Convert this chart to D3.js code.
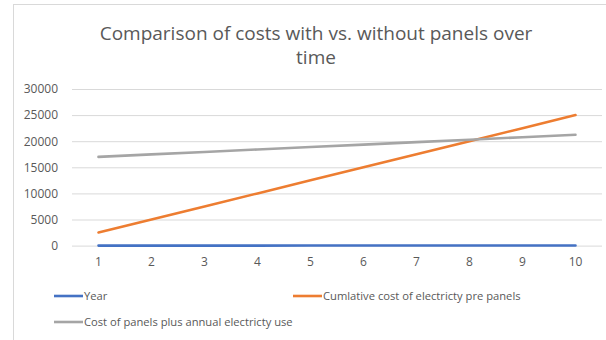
<!DOCTYPE html>
<html>
<head>
<meta charset="utf-8">
<script src="https://cdn.jsdelivr.net/npm/d3@7"></script>
<style>
  html, body { margin: 0; padding: 0; background: #fff; }
  svg { display: block; }
  text { font-family: "Open Sans", "Liberation Sans", sans-serif; }
</style>
</head>
<body>
<svg id="chart" width="606" height="340"></svg>
<script>
// Years on the horizontal axis
const years = [1, 2, 3, 4, 5, 6, 7, 8, 9, 10];
// Series values
const yearSeries = [1, 2, 3, 4, 5, 6, 7, 8, 9, 10];
const cumulativeCost = [2500, 5000, 7500, 10000, 12500, 15000, 17500, 20000, 22500, 25000];
const panelsPlusUse = [17000, 17470, 17940, 18410, 18880, 19350, 19820, 20290, 20760, 21230];
// Axis ticks
const yTicks = [0, 5000, 10000, 15000, 20000, 25000, 30000];

const seriesNames = ["Year", "Cumlative cost of electricty pre panels", "Cost of panels plus annual electricty use"];
const seriesColors = ["#4472C4", "#ED7D31", "#A5A5A5"];
const titleLines = ["Comparison of costs with vs. without panels over", "time"];

const series = [yearSeries, cumulativeCost, panelsPlusUse].map((vals, i) => ({
  name: seriesNames[i], color: seriesColors[i],
  points: vals.map((v, j) => ({ x: years[j], y: v }))
}));

const svg = d3.select("#chart");

// chart frame
svg.append("rect")
  .attr("x", 13.5).attr("y", 4.5)
  .attr("width", 620).attr("height", 360)
  .attr("fill", "#fff").attr("stroke", "#D9D9D9").attr("stroke-width", 1);

const plot = { left: 72, right: 602, top: 89, bottom: 245.6 };

const x = d3.scaleBand().domain(years).range([plot.left, plot.right]);
const xc = d => x(d) + x.bandwidth() / 2;
const y = d3.scaleLinear().domain([0, 30000]).range([plot.bottom, plot.top]);

// title
const title = svg.append("text")
  .attr("text-anchor", "middle")
  .attr("fill", "#595959")
  .style("font-size", "19px");
titleLines.forEach((t, i) => {
  title.append("tspan").attr("x", 316).attr("y", 40 + i * 23.5).text(t);
});

// gridlines and value labels
const yAxis = d3.axisLeft(y).tickValues(yTicks).tickSize(-(plot.right - plot.left)).tickPadding(14).tickFormat(d3.format("d"));
const gy = svg.append("g").attr("transform", `translate(${plot.left},0)`).call(yAxis);
gy.select(".domain").remove();
gy.selectAll(".tick line").attr("stroke", "#D9D9D9").attr("stroke-width", 1);
gy.selectAll(".tick text").attr("fill", "#595959").style("font-size", "12px").attr("font-family", "'Open Sans', sans-serif");

// year labels
const xAxis = d3.axisBottom(x).tickSize(0).tickPadding(12);
const gx = svg.append("g").attr("transform", `translate(0,${plot.bottom})`).call(xAxis);
gx.select(".domain").remove();
gx.selectAll(".tick text").attr("fill", "#595959").style("font-size", "12px").attr("font-family", "'Open Sans', sans-serif");

// lines
const line = d3.line().x(d => xc(d.x)).y(d => y(d.y));
svg.append("g").selectAll("path").data(series).join("path")
  .attr("d", d => line(d.points))
  .attr("fill", "none")
  .attr("stroke", d => d.color)
  .attr("stroke-width", 2.6)
  .attr("stroke-linecap", "round")
  .attr("stroke-linejoin", "round");

// legend
const legendPos = [[54, 296], [293, 296], [54, 322]];
const lg = svg.append("g").selectAll("g").data(series).join("g")
  .attr("transform", (d, i) => `translate(${legendPos[i][0]},${legendPos[i][1]})`);
lg.append("line").attr("x1", 0).attr("x2", 29).attr("y1", 0).attr("y2", 0)
  .attr("stroke", d => d.color).attr("stroke-width", 2.6);
lg.append("text").attr("x", 30).attr("y", 4)
  .attr("fill", "#595959").style("font-size", "11.2px")
  .text(d => d.name);
</script>
</body>
</html>
